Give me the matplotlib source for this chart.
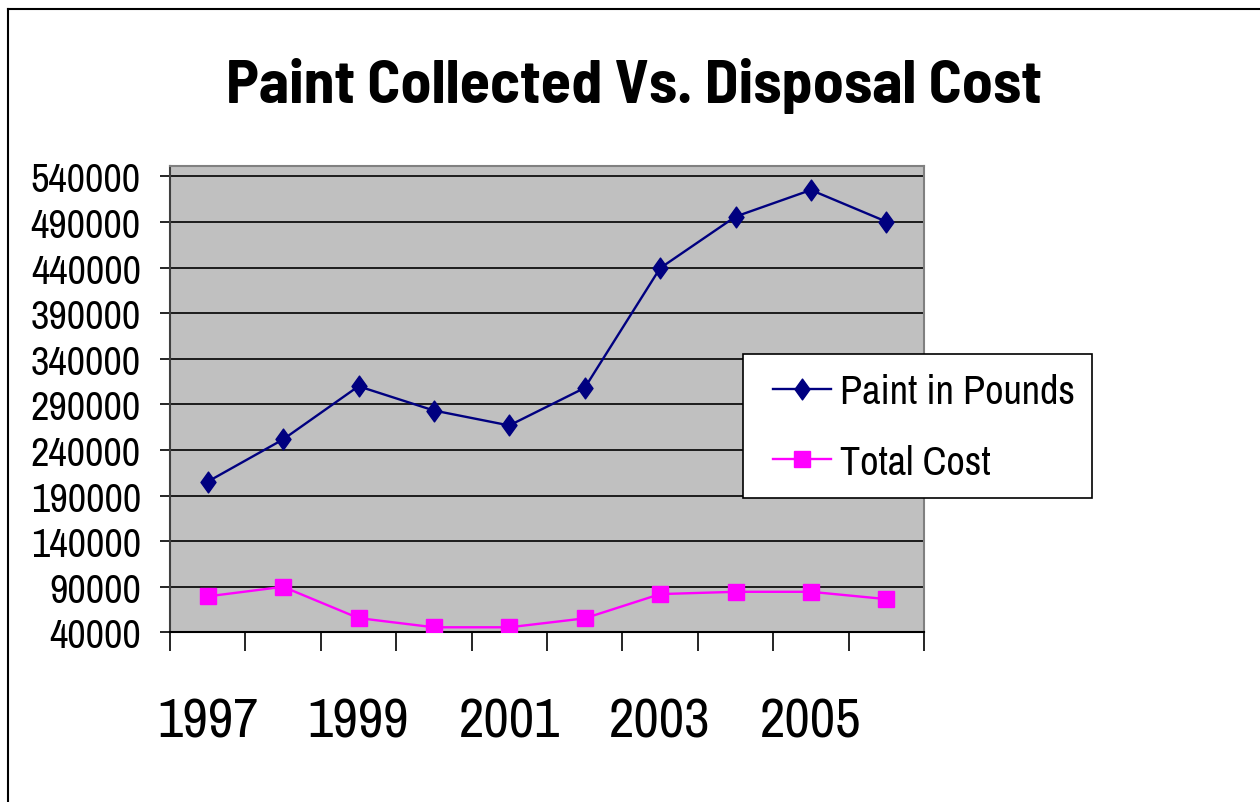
import numpy as np
import matplotlib
matplotlib.use("Agg")
import matplotlib.pyplot as plt
from matplotlib.lines import Line2D
from matplotlib.patches import Rectangle
from matplotlib.path import Path

years = ["1997", "1998", "1999", "2000", "2001", "2002", "2003", "2004", "2005", "2006"]
paint_pounds = [205200, 251500, 309800, 283200, 266800, 308000, 439300, 495800, 525000, 490300]
total_cost = [79400, 89900, 55600, 45500, 45500, 55300, 81900, 84400, 84400, 76400]
y_ticks = list(range(40000, 540001, 50000))

plt.rcParams['font.family'] = ['Archivo Narrow', 'Liberation Sans', 'DejaVu Sans']

W, H = 1260, 803
fig = plt.figure(figsize=(W / 100, H / 100), dpi=100)
ax = fig.add_axes([170 / W, 1 - 633.3 / H, (924 - 170) / W, (633.3 - 167) / H])
ax.set_facecolor('#C0C0C0')

x = np.arange(len(years))
diamond = Path([(0, 1), (0.72, 0), (0, -1), (-0.72, 0), (0, 1)],
               [Path.MOVETO, Path.LINETO, Path.LINETO, Path.LINETO, Path.CLOSEPOLY])

ax.plot(x, paint_pounds, color='#000080', lw=1.7, marker=diamond, markersize=15,
        label='Paint in Pounds', zorder=3)
ax.plot(x, total_cost, color='#FF00FF', lw=1.7, marker='s', markersize=11.5,
        label='Total Cost', zorder=3)

ax.set_xlim(-0.5, len(years) - 0.5)
ax.set_ylim(40000, 551300)
ax.set_yticks(y_ticks)
ax.set_yticklabels([str(v) for v in y_ticks])
ax.yaxis.grid(True, color='black', lw=1.2)
ax.set_axisbelow(True)

# category labels every other year, tick marks between categories
ax.set_xticks(x[::2])
ax.set_xticklabels(years[::2])
ax.set_xticks(np.arange(-0.5, len(years)), minor=True)
ax.tick_params(axis='x', which='major', length=0, labelsize=40, pad=46)
ax.tick_params(axis='x', which='minor', length=14, width=1.2, direction='out')
ax.tick_params(axis='y', length=7, width=1.2, direction='out', labelsize=29, pad=14)

for side in ['top', 'right']:
    ax.spines[side].set_color('#808080')
    ax.spines[side].set_linewidth(1.5)
ax.spines['left'].set_color('#404040')
ax.spines['left'].set_linewidth(1.5)
ax.spines['bottom'].set_color('black')
ax.spines['bottom'].set_linewidth(1.5)

# legend box drawn separately so the entries can sit inside with Excel-like padding
box = Rectangle((743 / W, 1 - 499 / H), 349 / W, 144 / H, transform=fig.transFigure,
                facecolor='white', edgecolor='black', lw=1.2, clip_on=False, zorder=4)
ax.add_patch(box)
leg = ax.legend(loc='center left', bbox_to_anchor=(773 / W, 1 - 428 / H),
                bbox_transform=fig.transFigure, fontsize=29, frameon=False,
                handlelength=1.44, handletextpad=0.22, labelspacing=0.82,
                borderpad=0, borderaxespad=0)
leg.set_zorder(5)

fig.text(0.5 + 4 / W, 1 - 86 / H, 'Paint Collected Vs. Disposal Cost', ha='center', va='center',
         fontsize=44.5, fontweight='bold', family=['Barlow Semi Condensed', 'DejaVu Sans'])

# chart border (left and top visible)
fig.add_artist(Line2D([8 / W, 8 / W], [0, 1 - 10 / H], color='black', lw=1.5))
fig.add_artist(Line2D([8 / W, 1], [1 - 10 / H, 1 - 10 / H], color='black', lw=1.5))

fig.savefig('out.png', dpi=100)
